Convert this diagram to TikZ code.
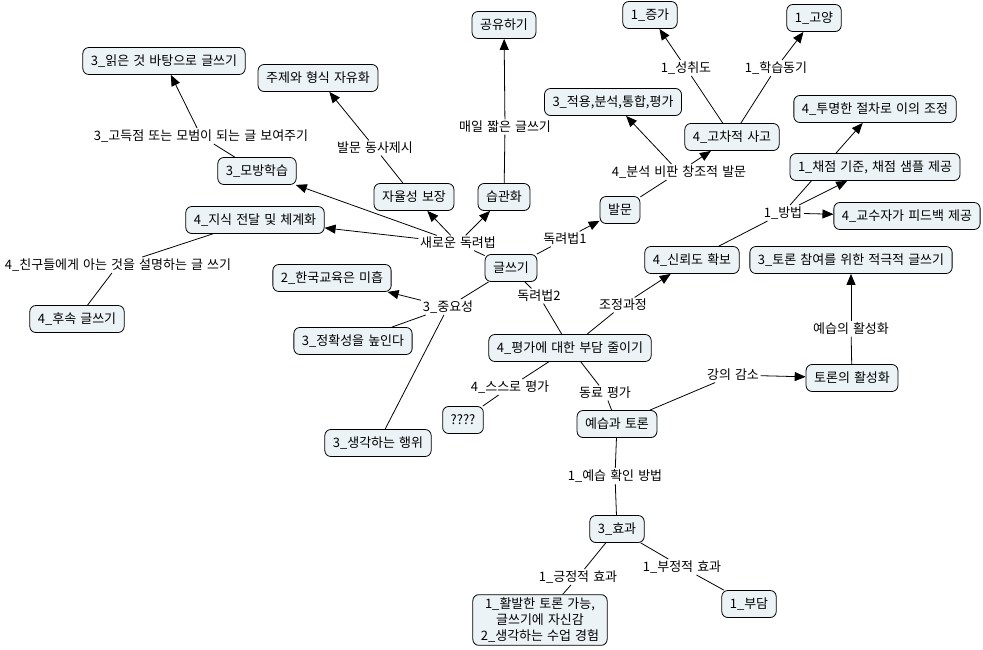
\documentclass[tikz,border=0pt]{standalone}
\usepackage{fontspec}
\setmainfont{Noto Sans CJK KR}[WordSpace=1.4]
\usepackage{tikz}
\usetikzlibrary{arrows.meta,backgrounds}
\definecolor{cmapfill}{RGB}{236,243,246}

\begin{document}
\begin{tikzpicture}[
  x=1pt, y=-1pt,
  concept/.style={rectangle, draw, rounded corners=6pt, fill=cmapfill,
                  align=center, font=\fontsize{13}{16}\selectfont,
                  inner xsep=8pt, inner ysep=3pt, minimum height=27pt,
                  line width=0.8pt},
  link/.style={inner sep=1.5pt, font=\fontsize{13}{16}\selectfont},
  ln/.style={draw, line width=0.8pt},
  arr/.style={draw, line width=0.8pt, -{Triangle[length=11pt,width=9pt]}}
]
\useasboundingbox (0,0) rectangle (983,649);
\node[concept] (share)  at (504,25)  {공유하기};
\node[concept] (inc)    at (650,15)  {1\_증가};
\node[concept] (raise)  at (814,18)  {1\_고양};
\node[concept] (read)   at (164,61)  {3\_읽은 것 바탕으로 글쓰기};
\node[concept] (free)   at (318,78)  {주제와 형식 자유화};
\node[concept] (apply)  at (613,102) {3\_적용,분석,통합,평가};
\node[concept] (fair)   at (875,109) {4\_투명한 절차로 이의 조정};
\node[concept] (high)   at (732,137) {4\_고차적 사고};
\node[concept] (imit)   at (257,171) {3\_모방학습};
\node[concept] (rubric) at (875,167) {1\_채점 기준, 채점 샘플 제공};
\node[concept] (auto)   at (414,197) {자율성 보장};
\node[concept] (habit)  at (504,197) {습관화};
\node[concept] (ask)    at (620,210) {발문};
\node[concept] (know)   at (255,220) {4\_지식 전달 및 체계화};
\node[concept] (fb)     at (907,216) {4\_교수자가 피드백 제공};
\node[concept] (write)  at (511,268) {글쓰기};
\node[concept] (rel)    at (692,260) {4\_신뢰도 확보};
\node[concept] (disc)   at (851,260) {3\_토론 참여를 위한 적극적 글쓰기};
\node[concept] (korea)  at (332,278) {2\_한국교육은 미흡};
\node[concept] (follow) at (77,319)  {4\_후속 글쓰기};
\node[concept] (acc)    at (353,341) {3\_정확성을 높인다};
\node[concept] (burden) at (570,348) {4\_평가에 대한 부담 줄이기};
\node[concept] (act)    at (852,378) {토론의 활성화};
\node[concept] (qq)     at (463,420) {????};
\node[concept] (prep)   at (617,424) {예습과 토론};
\node[concept] (think)  at (378,443) {3\_생각하는 행위};
\node[concept] (eff)    at (617,529) {3\_효과};
\node[concept] (good)   at (540,620) {1\_활발한 토론 가능,\\글쓰기에 자신감\\2\_생각하는 수업 경험};
\node[concept] (load)   at (749,604) {1\_부담};

\node[link] (lmodel) at (201,136) {3\_고득점 또는 모범이 되는 글 보여주기};
\node[link] (lverb)  at (375,148) {발문 동사제시};
\node[link] (ldaily) at (505,127) {매일 짧은 글쓰기};
\node[link] (lach)   at (686,68)  {1\_성취도};
\node[link] (lmot)   at (776,68)  {1\_학습동기};
\node[link] (lcrit)  at (679,172) {4\_분석 비판 창조적 발문};
\node[link] (lmeth)  at (783,213) {1\_방법};
\node[link] (lnew)   at (458,243) {새로운 독려법};
\node[link] (lenc1)  at (565,239) {독려법1};
\node[link] (limp)   at (448,307) {3\_중요성};
\node[link] (lenc2)  at (539,296) {독려법2};
\node[link] (ladj)   at (623,305) {조정과정};
\node[link] (lfriend) at (118,265) {4\_친구들에게 아는 것을 설명하는 글 쓰기};
\node[link] (lself)  at (510,387) {4\_스스로 평가};
\node[link] (lpeer)  at (605,393) {동료 평가};
\node[link] (llect)  at (733,375) {강의 감소};
\node[link] (lpact)  at (851,329) {예습의 활성화};
\node[link] (lcheck) at (615,476) {1\_예습 확인 방법};
\node[link] (lpos)   at (578,577) {1\_긍정적 효과};
\node[link] (lneg)   at (682,567) {1\_부정적 효과};

\begin{scope}[on background layer]
\draw[ln] (imit) -- (lmodel);
\draw[arr] (lmodel) -- (read);
\draw[ln] (auto) -- (lverb);
\draw[arr] (lverb) -- (free);
\draw[ln] (habit) -- (ldaily);
\draw[arr] (ldaily) -- (share);
\draw[ln] (write) -- (lnew);
\draw[arr] (lnew) -- (auto);
\draw[arr] (lnew) -- (habit);
\draw[arr] (lnew) -- (know);
\draw[arr] (lnew) -- (imit);
\draw[ln] (write) -- (lenc1);
\draw[arr] (lenc1) -- (ask);
\draw[ln] (ask) -- (lcrit);
\draw[arr] (lcrit) -- (apply);
\draw[arr] (lcrit) -- (high);
\draw[ln] (high) -- (lach);
\draw[arr] (lach) -- (inc);
\draw[ln] (high) -- (lmot);
\draw[arr] (lmot) -- (raise);
\draw[ln] (write) -- (lenc2);
\draw[ln] (lenc2) -- (burden);
\draw[ln] (burden) -- (ladj);
\draw[arr] (ladj) -- (rel);
\draw[ln] (rel) -- (lmeth);
\draw[arr] (lmeth) -- (rubric);
\draw[arr] (lmeth) -- (fair);
\draw[arr] (lmeth) -- (fb);
\draw[ln] (burden) -- (lself);
\draw[ln] (lself) -- (qq);
\draw[ln] (burden) -- (lpeer);
\draw[ln] (lpeer) -- (prep);
\draw[ln] (prep) -- (llect);
\draw[arr] (llect) -- (act);
\draw[ln] (act) -- (lpact);
\draw[arr] (lpact) -- (disc);
\draw[ln] (prep) -- (lcheck);
\draw[ln] (lcheck) -- (eff);
\draw[ln] (eff) -- (lpos);
\draw[ln] (lpos) -- (good);
\draw[ln] (eff) -- (lneg);
\draw[ln] (lneg) -- (load);
\draw[ln] (write) -- (limp);
\draw[arr] (limp) -- (korea);
\draw[ln] (limp) -- (acc);
\draw[ln] (limp) -- (think);
\draw[ln] (know) -- (lfriend);
\draw[ln] (lfriend) -- (follow);
\end{scope}
\end{tikzpicture}
\end{document}
